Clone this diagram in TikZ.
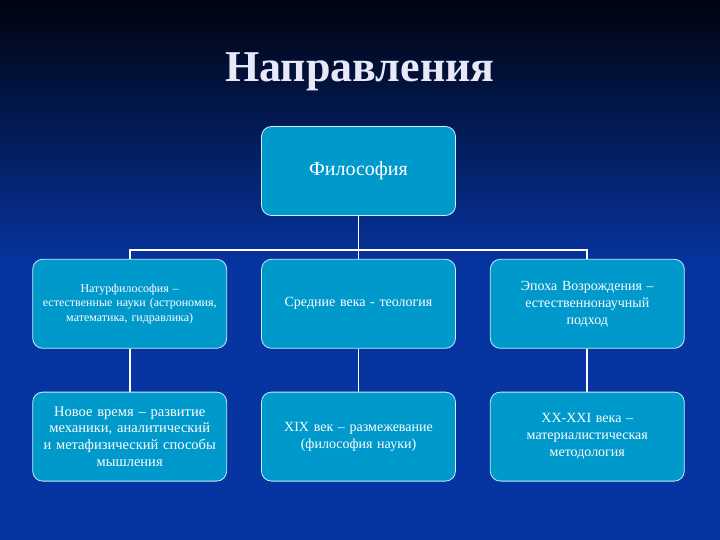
\documentclass[tikz,border=0pt]{standalone}
\usepackage{fontspec}
\setmainfont{Liberation Serif}
\usepackage{tikz}
\usetikzlibrary{positioning}
\definecolor{BgTop}{HTML}{00030E}
\definecolor{BgBlue}{HTML}{0634A0}
\definecolor{BoxFill}{HTML}{0099CC}
\definecolor{BoxLine}{HTML}{C8EEFA}
\definecolor{TitleText}{HTML}{E8E8F8}

\begin{document}
\begin{tikzpicture}[
			x=1pt, y=1pt,
			node distance=43pt and 34pt,
			topic/.style={
				draw=BoxLine,
				line width=0.8pt,
				fill=BoxFill,
				rounded corners=10pt,
				minimum width=194pt,
				minimum height=89pt,
				text width=186pt,
				align=center,
				text=white,
				font=\fontsize{14}{17}\selectfont
			},
			link/.style={draw=white, line width=1.8pt}
			]
			
			% Background
			\fill[BgBlue] (0,0) rectangle (720,-540);
			\shade[top color=BgTop, bottom color=BgBlue] (0,0) rectangle (720,-265);
			
			% Title
			\node[
			text=TitleText,
			font=\fontsize{44}{50}\selectfont\bfseries,
			anchor=base
			]
			(title) at (360,-82)
			{Направления};
			
			% Philosophy
			\node[
			topic,
			font=\fontsize{20}{24}\selectfont
			]
			(phil) at (358.5,-171)
			{Философия};
			
			% Middle Ages
			\node[
			topic,
			below=of phil
			]
			(medieval)
			{Средние века - теология};
			
			% Natural philosophy
			\node[
			topic,
			font=\fontsize{12}{14.5}\selectfont,
			left=of medieval
			]
			(natur)
			{Натурфилософия –\\
				естественные науки (астрономия,\\
				математика, гидравлика)};
			
			% Renaissance
			\node[
			topic,
			right=of medieval
			]
			(renais)
			{Эпоха Возрождения –\\
				естественнонаучный\\
				подход};
			
			% Modern times
			\node[
			topic,
			font=\fontsize{14.5}{16.7}\selectfont,
			below=of natur
			]
			(modern)
			{Новое время – развитие\\
				механики, аналитический\\
				и метафизический способы\\
				мышления};
			
			% XIX century
			\node[
			topic,
			below=of medieval
			]
			(nineteen)
			{XIX век – размежевание\\
				(философия науки)};
			
			% XX-XXI centuries
			\node[
			topic,
			right=of nineteen
			]
			(recent)
			{XX-XXI века –\\
				материалистическая\\
				методология};
			
			% Connectors
			\draw[link] (phil.south) -- ++(0,-34) coordinate (hub);
			\draw[link] (natur.north) |- (hub) -| (renais.north);
			\draw[link] (hub) -- (medieval.north);
			\draw[link] (natur.south) -- (modern.north);
			\draw[link] (medieval.south) -- (nineteen.north);
			\draw[link] (renais.south) -- (recent.north);
			
		\end{tikzpicture}
\end{document}
